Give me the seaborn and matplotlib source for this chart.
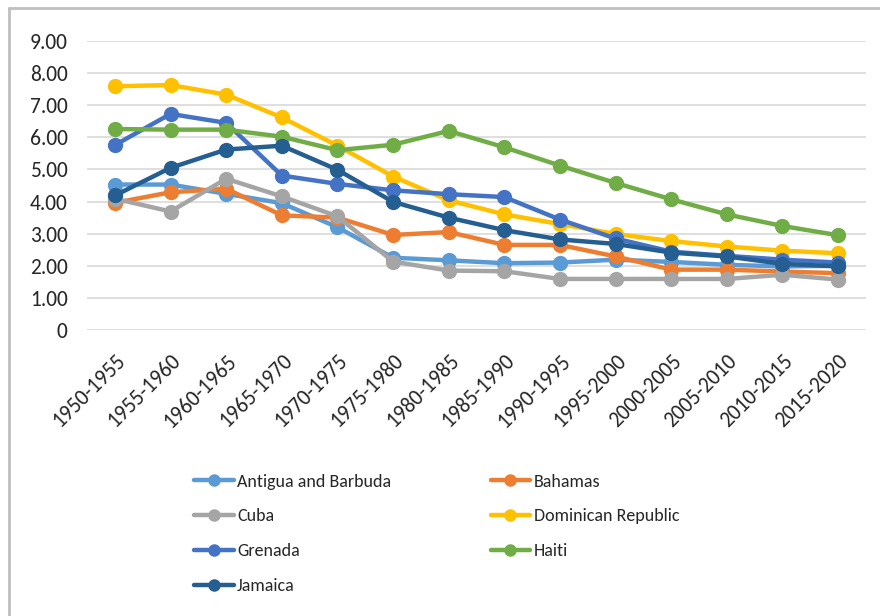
import pandas as pd
import numpy as np
import matplotlib
matplotlib.use("Agg")
import matplotlib.pyplot as plt
from matplotlib.lines import Line2D
import seaborn as sns

# periods on the x axis
periods = ["1950-1955", "1955-1960", "1960-1965", "1965-1970", "1970-1975",
           "1975-1980", "1980-1985", "1985-1990", "1990-1995", "1995-2000",
           "2000-2005", "2005-2010", "2010-2015", "2015-2020"]

# values
antigua = [4.53, 4.53, 4.24, 3.95, 3.20, 2.25, 2.17, 2.08, 2.10, 2.19, 2.12, 2.03, 1.98, 2.00]
bahamas = [3.96, 4.29, 4.40, 3.57, 3.50, 2.96, 3.05, 2.65, 2.65, 2.29, 1.88, 1.88, 1.82, 1.77]
cuba = [4.09, 3.69, 4.71, 4.16, 3.54, 2.13, 1.85, 1.83, 1.59, 1.59, 1.59, 1.59, 1.72, 1.57]
dominican = [7.59, 7.63, 7.33, 6.62, 5.74, 4.78, 4.04, 3.60, 3.30, 2.99, 2.77, 2.60, 2.47, 2.39]
grenada = [5.76, 6.73, 6.45, 4.81, 4.55, 4.35, 4.23, 4.14, 3.44, 2.85, 2.44, 2.31, 2.19, 2.10]
haiti = [6.26, 6.24, 6.24, 6.02, 5.60, 5.77, 6.20, 5.69, 5.12, 4.58, 4.07, 3.60, 3.24, 2.95]
jamaica = [4.19, 5.05, 5.62, 5.74, 4.99, 3.99, 3.50, 3.11, 2.82, 2.68, 2.41, 2.29, 2.06, 1.98]

countries = ["Antigua and Barbuda", "Bahamas", "Cuba", "Dominican Republic",
             "Grenada", "Haiti", "Jamaica"]
series = [antigua, bahamas, cuba, dominican, grenada, haiti, jamaica]
colors = ["#5B9BD5", "#ED7D31", "#A5A5A5", "#FFC000", "#4472C4", "#70AD47", "#255E91"]

y_ticks = [0, 1, 2, 3, 4, 5, 6, 7, 8, 9]
y_labels = ["0", "1.00", "2.00", "3.00", "4.00", "5.00", "6.00", "7.00", "8.00", "9.00"]

rows = []
for name, vals in zip(countries, series):
    for p, v in zip(periods, vals):
        rows.append({"period": p, "value": v, "country": name})
df = pd.DataFrame(rows)

sns.set_style("white")
plt.rcParams['font.family'] = ['Carlito', 'Liberation Sans Narrow', 'DejaVu Sans']

fig = plt.figure(figsize=(8.8, 6.16), dpi=100)
ax = fig.add_axes([0.099, 0.4643, 0.885, 0.4691])

sns.lineplot(data=df, x="period", y="value", hue="country", hue_order=countries,
             palette=colors, marker="o", markersize=11, markeredgewidth=0,
             linewidth=3.2, sort=False, ax=ax, legend=False)

ax.set_xlim(-0.5, len(periods) - 0.5)
ax.set_ylim(0, 9)
ax.set_yticks(y_ticks)
ax.set_yticklabels(y_labels)
ax.yaxis.grid(True, color="#D9D9D9", linewidth=1.2)
ax.set_axisbelow(True)
for s in ax.spines.values():
    s.set_visible(False)
ax.tick_params(axis="y", length=0, pad=14, labelsize=15.5, labelcolor="#262626")
ax.tick_params(axis="x", length=0, pad=15, labelsize=15.5, labelcolor="#262626")
ax.set_xticks(range(len(periods)))
ax.set_xticklabels(periods, rotation=45, ha="right", va="top", rotation_mode="anchor")
ax.set_xlabel("")
ax.set_ylabel("")

# legend, row-wise order in two columns
handles = [Line2D([], [], color=c, lw=3.2, marker="o", markersize=9, markeredgewidth=0)
           for c in colors]
order = [0, 2, 4, 6, 1, 3, 5]
fig.legend([handles[i] for i in order], [countries[i] for i in order],
           ncol=2, loc="upper left", bbox_to_anchor=(0.212, 0.243),
           frameon=False, fontsize=13, handlelength=2.2, handletextpad=0.2,
           columnspacing=5.5, labelspacing=1.05, borderaxespad=0)

# outer chart frame (top and left edges visible)
fig.add_artist(Line2D([9 / 880, 1.0], [1 - 8 / 616, 1 - 8 / 616], color="#BFBFBF",
                      lw=2, transform=fig.transFigure))
fig.add_artist(Line2D([9 / 880, 9 / 880], [0, 1 - 8 / 616], color="#BFBFBF",
                      lw=2, transform=fig.transFigure))

fig.savefig("out.png", dpi=100)
